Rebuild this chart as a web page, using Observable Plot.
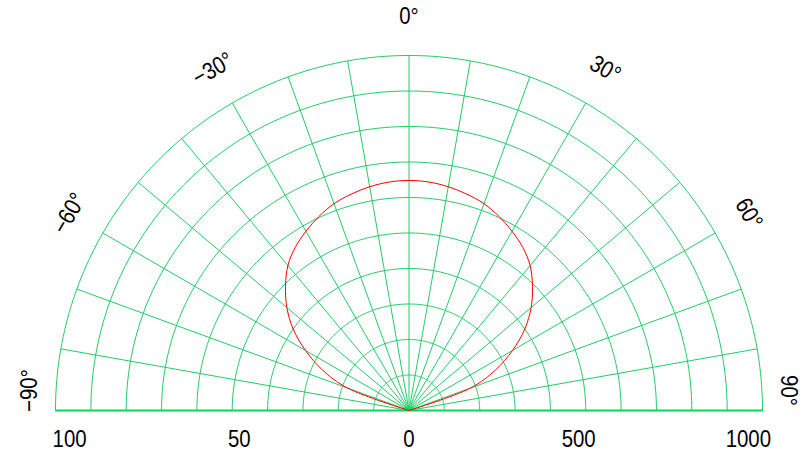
<!DOCTYPE html>
<html>
<head>
<meta charset="utf-8">
<script src="https://cdn.jsdelivr.net/npm/d3@7"></script>
<script src="https://cdn.jsdelivr.net/npm/@observablehq/plot@0.6"></script>
<style>
  html, body { margin: 0; padding: 0; background: #fff; }
  #chart { width: 812px; height: 452px; }
</style>
</head>
<body>
<div id="chart"></div>
<script>
// ---- data ----
const angles = [-90,-85,-80,-75,-70,-65,-60,-55,-50,-45,-40,-35,-30,-25,-20,-15,-10,-5,0,5,10,15,20,25,30,35,40,45,50,55,60,65,70,75,80,85,90];
const intensity = [0,0,0,0,186,270,338,400,451,494,533,561,583,603,620,631,640,646,648,646,640,631,620,603,583,561,533,494,451,400,338,270,186,0,0,0,0];
const rings = [1,2,3,4,5,6,7,8,9,10];
const spokes = [-80,-70,-60,-50,-40,-30,-20,-10,0,10,20,30,40,50,60,70,80];
const angleLabels = [-90,-60,-30,0,30,60,90];
const leftTicks = [100, 50];
const centerTick = [0];
const rightTicks = [500, 1000];
const leftMax = 100, rightMax = 1000, ringMax = 10;

// ---- derived tables ----
const rad = a => a * Math.PI / 180;
const arcPts = [];
for (const k of rings) for (let a = -90; a <= 90; a += 1) arcPts.push({k, x: k * Math.sin(rad(a)), y: k * Math.cos(rad(a))});
const spokeRows = spokes.map(a => ({a, x2: ringMax * Math.sin(rad(a)), y2: ringMax * Math.cos(rad(a))}));
const curve = angles.map((a, i) => {
  const r = intensity[i] / rightMax * ringMax;
  return {x: r * Math.sin(rad(a)), y: r * Math.cos(rad(a))};
});
const labRows = angleLabels.map(a => {
  const edge = Math.abs(a) >= 90;
  const p = Math.sign(a) * Math.min(Math.abs(a), 87);
  const r = edge ? 10.75 : 11.1;
  return {text: a < 0 ? "\u2212" + Math.abs(a) + "°" : a + "°", a, x: r * Math.sin(rad(p)), y: r * Math.cos(rad(p))};
});
const tickPos = 9.6;
const tickRows = [
  ...leftTicks.map(v => ({text: String(v), x: -v / leftMax * tickPos})),
  ...centerTick.map(v => ({text: String(v), x: 0})),
  ...rightTicks.map(v => ({text: String(v), x: v / rightMax * tickPos}))
];

const green = "#22cc66";
const font = "'Liberation Sans', Arial, sans-serif";

const chart = Plot.plot({
  width: 812,
  height: 452,
  marginLeft: 55,
  marginRight: 50,
  marginTop: 55,
  marginBottom: 42,
  x: {domain: [-10, 10], axis: null},
  y: {domain: [0, 10], axis: null},
  style: {fontFamily: font, background: "#fff"},
  marks: [
    Plot.line(arcPts, {x: "x", y: "y", z: "k", stroke: green, strokeWidth: 1}),
    Plot.link(spokeRows, {x1: 0, y1: 0, x2: "x2", y2: "y2", stroke: green, strokeWidth: 1}),
    Plot.link([{x1: -ringMax, x2: ringMax}], {x1: "x1", y1: 0, x2: "x2", y2: 0, stroke: "#00dd55", strokeWidth: 2}),
    Plot.line(curve, {x: "x", y: "y", stroke: "#ff0000", strokeWidth: 1, curve: "catmull-rom"}),
    Plot.text(labRows, {x: "x", y: "y", text: "text", rotate: "a", fontSize: 24, fill: "#000", lineAnchor: "middle", textAnchor: "middle", className: "narrow"}),
    Plot.text(tickRows, {x: "x", y: 0, text: "text", dy: 29, fontSize: 24, fill: "#000", lineAnchor: "middle", textAnchor: "middle", className: "narrow"})
  ]
});
// condense the label glyphs horizontally (the reference uses a narrow face)
chart.querySelectorAll("g.narrow text").forEach(t => {
  const tr = t.getAttribute("transform") || "";
  t.setAttribute("transform", tr + " scale(0.85,1)");
});
document.getElementById("chart").appendChild(chart);
</script>
</body>
</html>
